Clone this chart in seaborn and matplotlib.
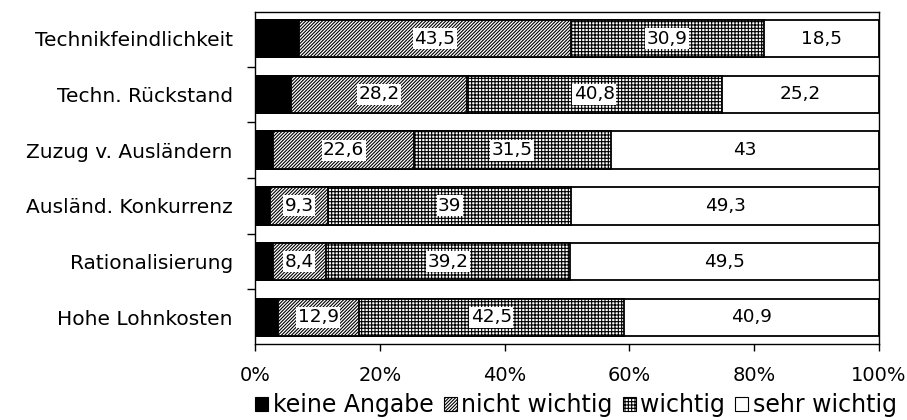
import matplotlib
matplotlib.use("Agg")
import matplotlib.pyplot as plt
import seaborn as sns
import pandas as pd
import numpy as np
from matplotlib.patches import Patch
from matplotlib.ticker import FixedLocator

categories = ["Technikfeindlichkeit", "Techn. Rückstand", "Zuzug v. Ausländern",
              "Ausländ. Konkurrenz", "Rationalisierung", "Hohe Lohnkosten"]
keine_angabe = [7.1, 5.8, 2.9, 2.4, 2.9, 3.7]
nicht_wichtig = [43.5, 28.2, 22.6, 9.3, 8.4, 12.9]
wichtig = [30.9, 40.8, 31.5, 39, 39.2, 42.5]
sehr_wichtig = [18.5, 25.2, 43, 49.3, 49.5, 40.9]
series_names = ["keine Angabe", "nicht wichtig", "wichtig", "sehr wichtig"]
x_ticks = [0, 20, 40, 60, 80, 100]
x_tick_labels = ["0%", "20%", "40%", "60%", "80%", "100%"]

sns.set_style("white")
plt.rcParams['font.family'] = ['DejaVu Sans']
plt.rcParams['hatch.linewidth'] = 0.8
plt.rcParams['hatch.color'] = 'black'
plt.rcParams['text.color'] = 'black'
plt.rcParams['xtick.color'] = 'black'
plt.rcParams['ytick.color'] = 'black'
plt.rcParams['xtick.labelcolor'] = 'black'
plt.rcParams['ytick.labelcolor'] = 'black'

series = [keine_angabe, nicht_wichtig, wichtig, sehr_wichtig]
hatches = [None, '//////////', '+++++', None]
faces = ['black', 'white', 'white', 'white']

cum = np.cumsum(np.array(series), axis=0)  # shape 4 x n
starts = cum - np.array(series)

fig = plt.figure(figsize=(9.07, 4.2), dpi=100)
ax = fig.add_axes([255 / 907, 1 - 344 / 420, (879 - 255) / 907, (344 - 12) / 420])

for i in reversed(range(4)):
    df = pd.DataFrame({"cat": categories, "val": cum[i]})
    sns.barplot(data=df, x="val", y="cat", orient="h", color=faces[i], saturation=1,
                edgecolor="black", linewidth=1.3, hatch=hatches[i], width=0.67,
                ax=ax, order=categories)

for j in range(len(categories)):
    for i in (1, 2, 3):
        v = series[i][j]
        xc = starts[i][j] + v / 2
        txt = f"{v:g}".replace('.', ',')
        bbox = dict(facecolor='white', edgecolor='none', pad=1.0) if i in (1, 2) else None
        ax.text(xc, j, txt, ha='center', va='center', fontsize=13.3, color='black', bbox=bbox)

ax.set_xlim(0, 100)
ax.set_ylim(len(categories) - 0.52, -0.48)
ax.set_xticks(x_ticks)
ax.set_xticklabels(x_tick_labels, fontsize=14, color='black')
ax.set_xlabel("")
ax.set_ylabel("")
ax.tick_params(axis='x', direction='out', length=5, width=1, color='black', pad=11, bottom=True,
               labelcolor='black')
ax.tick_params(axis='y', which='major', length=0, pad=16, labelsize=14.5, left=True,
               labelcolor='black')
ax.yaxis.set_minor_locator(FixedLocator(np.arange(-0.5, len(categories), 1.0)))
ax.tick_params(axis='y', which='minor', direction='out', length=6, width=1, color='black', left=True)
for s in ax.spines.values():
    s.set_visible(True)
    s.set_color('black')
    s.set_linewidth(1.0)

handles = [Patch(facecolor=faces[i], edgecolor='black', hatch=hatches[i], linewidth=0.8)
           for i in range(4)]
fig.legend(handles, series_names, loc='center', bbox_to_anchor=(576 / 907, 1 - 405 / 420),
           ncol=4, frameon=False, fontsize=17, handlelength=0.55, handleheight=0.55,
           handletextpad=0.2, columnspacing=0.42, borderaxespad=0, borderpad=0,
           labelcolor='black')

fig.savefig("out.png", dpi=100)
